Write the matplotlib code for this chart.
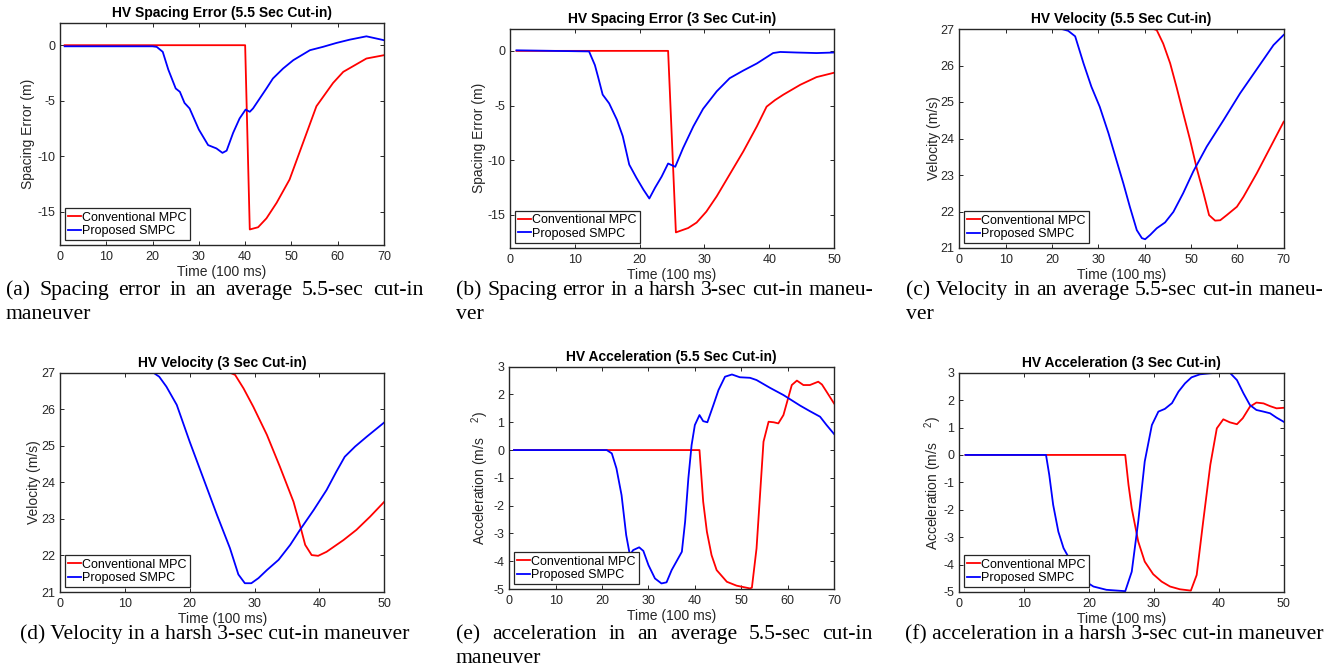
import matplotlib
matplotlib.use("Agg")
import matplotlib.pyplot as plt

# ---------------- data ----------------
a_t_mpc = [1, 40, 41, 42.8, 44.6, 46.8, 49.6, 52.5, 55.4, 59, 61.2, 66.2, 70]
a_mpc = [0, 0, -16.6, -16.4, -15.6, -14.2, -12.1, -8.8, -5.5, -3.4, -2.4, -1.2, -0.9]
a_t_smpc = [1, 20, 20.9, 22.2, 23.4, 25, 25.9, 26.9, 28, 30, 32, 33.8, 35.1, 36, 37.4, 38.8,
            40.1, 41, 41.7, 44.6, 46, 48.2, 50.4, 54, 56.8, 59.7, 62.6, 66.2, 70]
a_smpc = [-0.1, -0.1, -0.15, -0.6, -2.2, -3.9, -4.2, -5.2, -5.7, -7.6, -9.0, -9.3, -9.7, -9.5,
          -7.9, -6.6, -5.8, -6.0, -5.7, -3.9, -3.0, -2.1, -1.35, -0.45, -0.15, 0.2, 0.5, 0.8, 0.45]

b_t_mpc = [1, 24.4, 25.6, 27.5, 28.8, 30.3, 31.9, 33.9, 36, 38.1, 39.6, 40.9, 42.2, 44.8, 47.3, 50]
b_mpc = [0, 0, -16.6, -16.2, -15.7, -14.7, -13.3, -11.3, -9.2, -6.9, -5.1, -4.5, -4.0, -3.1, -2.4, -2.0]
b_t_smpc = [1, 12.2, 13.1, 13.6, 14.3, 15.3, 16.5, 17.4, 18.4, 19.5, 20.6, 21.5, 22.4, 23.4, 24.4,
            25.5, 26.7, 28.3, 29.8, 31.9, 33.9, 36, 38.1, 40.6, 41.7, 44.2, 47.3, 50]
b_smpc = [0.05, -0.05, -1.3, -2.4, -4.0, -4.8, -6.3, -7.8, -10.4, -11.6, -12.7, -13.5, -12.5, -11.5,
          -10.3, -10.6, -8.9, -6.9, -5.3, -3.7, -2.5, -1.8, -1.15, -0.2, -0.1, -0.15, -0.2, -0.15]

c_t_mpc = [1, 41.9, 42.6, 44, 45.5, 46.9, 48.3, 49.8, 51.2, 52.7, 53.9, 55.2, 56.3, 57.7, 59.9,
           61.3, 64.2, 67, 70]
c_mpc = [27, 27, 26.97, 26.6, 26.06, 25.4, 24.7, 23.96, 23.2, 22.5, 21.9, 21.75, 21.76, 21.9,
         22.13, 22.4, 23.05, 23.73, 24.46]
c_t_smpc = [1, 22.1, 23.5, 25, 26.8, 28.5, 30.3, 32.2, 33.9, 35.4, 36.8, 38.3, 39.4, 40.1, 41.2,
            42.6, 44.4, 46.2, 48.3, 50.5, 53.4, 57, 60.6, 64.2, 67.8, 70]
c_smpc = [27, 27, 26.95, 26.8, 26.06, 25.42, 24.87, 24.14, 23.41, 22.77, 22.13, 21.49, 21.27,
          21.24, 21.36, 21.54, 21.7, 21.99, 22.5, 23.1, 23.78, 24.5, 25.24, 25.9, 26.56, 26.84]

d_t_mpc = [1, 25.5, 26.2, 27, 28.3, 29.8, 31.9, 33.9, 36, 37, 37.8, 38.8, 39.8, 41.1, 43.7,
           45.7, 47.8, 50]
d_mpc = [27.1, 27.1, 27.0, 26.94, 26.57, 26.07, 25.3, 24.43, 23.47, 22.83, 22.29, 22.01, 21.99,
         22.1, 22.42, 22.7, 23.06, 23.47]
d_t_smpc = [1, 13.5, 14.4, 15.3, 16.4, 18, 20, 22.1, 24.2, 26.2, 27.5, 28.5, 29.5, 30.6, 31.9,
            33.7, 35.5, 37, 39.1, 41.1, 42.6, 43.9, 45.5, 47.3, 50]
d_smpc = [27.1, 27.1, 27.0, 26.89, 26.62, 26.12, 25.11, 24.11, 23.11, 22.2, 21.48, 21.24, 21.24,
          21.38, 21.6, 21.88, 22.29, 22.7, 23.24, 23.79, 24.29, 24.7, 24.98, 25.25, 25.64]

e_t_mpc = [1, 41, 41.8, 42.6, 43.6, 44.7, 46.9, 49, 51.9, 52.3, 53.3, 54.8, 55.9, 57, 58, 59.1,
           59.8, 60.9, 62, 63.4, 64.8, 66.6, 67.4, 68.4, 70]
e_mpc = [0, 0, -1.86, -2.94, -3.78, -4.32, -4.74, -4.88, -4.98, -4.95, -3.54, 0.3, 1.02, 1.0,
         0.96, 1.26, 1.68, 2.34, 2.5, 2.34, 2.34, 2.46, 2.36, 2.1, 1.68]
e_t_smpc = [1, 21, 22.1, 23.1, 24.2, 25.2, 26, 26.7, 28, 28.9, 30, 31.4, 32.8, 33.9, 35, 36, 37.2,
            37.9, 38.6, 39.3, 40, 41, 41.8, 42.7, 44, 45.1, 46.5, 48, 49.7, 51.9, 53.3, 56.2,
            59.1, 62.7, 64.8, 67, 68.4, 70]
e_smpc = [0, 0, -0.12, -0.66, -1.62, -3.06, -3.78, -3.6, -3.5, -3.63, -4.14, -4.62, -4.8, -4.76,
          -4.32, -4.02, -3.66, -2.58, -1.02, 0.18, 0.9, 1.26, 1.04, 1.0, 1.62, 2.16, 2.64, 2.72,
          2.62, 2.6, 2.52, 2.24, 1.98, 1.6, 1.4, 1.2, 0.9, 0.58]

f_t_mpc = [1, 25.6, 26.1, 26.6, 27.6, 28.6, 29.9, 31.2, 32.5, 34, 35.7, 36.6, 37.6, 38.7, 39.7,
           40.7, 41.7, 42.8, 43.7, 44.8, 45.8, 46.9, 47.9, 48.9, 50]
f_mpc = [0, 0, -1.09, -1.95, -3.16, -3.89, -4.35, -4.62, -4.8, -4.9, -4.95, -4.38, -2.43, -0.36,
         0.97, 1.3, 1.19, 1.12, 1.34, 1.76, 1.91, 1.88, 1.78, 1.7, 1.72]
f_t_smpc = [1, 13.4, 13.9, 14.5, 15.3, 16.1, 17.1, 18.1, 19.1, 20.7, 22.7, 25.6, 26.6, 27.6, 28.6,
            29.7, 30.7, 31.7, 32.8, 33.8, 34.8, 35.8, 37.1, 38.7, 40.2, 41.7, 42.8, 43.8, 44.8,
            45.8, 46.9, 47.9, 48.9, 50]
f_smpc = [0, 0, -0.73, -1.82, -2.8, -3.4, -3.83, -4.13, -4.56, -4.8, -4.92, -4.97, -4.26, -2.43,
          -0.24, 1.09, 1.58, 1.68, 1.89, 2.31, 2.61, 2.83, 2.94, 2.98, 3.0, 3.0, 2.73, 2.25, 1.82,
          1.64, 1.58, 1.52, 1.36, 1.21]

series_names = ["Conventional MPC", "Proposed SMPC"]
titles = ["HV Spacing Error (5.5 Sec Cut-in)", "HV Spacing Error (3 Sec Cut-in)",
          "HV Velocity (5.5 Sec Cut-in)", "HV Velocity (3 Sec Cut-in)",
          "HV Acceleration (5.5 Sec Cut-in)", "HV Acceleration (3 Sec Cut-in)"]
ylabels = ["Spacing Error (m)", "Spacing Error (m)", "Velocity (m/s)", "Velocity (m/s)",
           "Acceleration (m/s    $^{2}$)", "Acceleration (m/s    $^{2}$)"]
xlabel = "Time (100 ms)"
x_ticks_70 = [0, 10, 20, 30, 40, 50, 60, 70]
x_ticks_50 = [0, 10, 20, 30, 40, 50]
y_ticks_spacing = [-15, -10, -5, 0]
y_ticks_vel = [21, 22, 23, 24, 25, 26, 27]
y_ticks_acc = [-5, -4, -3, -2, -1, 0, 1, 2, 3]

captions = [
    ("(a) Spacing error in an average 5.5-sec cut-in", "maneuver"),
    ("(b) Spacing error in a harsh 3-sec cut-in maneu-", "ver"),
    ("(c) Velocity in an average 5.5-sec cut-in maneu-", "ver"),
    ("(d) Velocity in a harsh 3-sec cut-in maneuver", None),
    ("(e) acceleration in an average 5.5-sec cut-in", "maneuver"),
    ("(f) acceleration in a harsh 3-sec cut-in maneuver", None),
]

# ---------------- layout ----------------
W, H = 1344, 671
plt.rcParams['font.family'] = ['Liberation Sans', 'DejaVu Sans']
plt.rcParams['axes.unicode_minus'] = False
plt.rcParams['mathtext.fontset'] = 'custom'
plt.rcParams['mathtext.rm'] = 'Liberation Sans'
plt.rcParams['mathtext.it'] = 'Liberation Sans'

fig = plt.figure(figsize=(W / 100, H / 100), dpi=100)

# pixel boxes (left, top, right, bottom)
boxes = [(60, 23, 384, 245), (510, 29, 834, 247.7), (959.3, 29, 1283.7, 248),
         (60, 372.7, 384.3, 592), (509.3, 366.7, 834, 589), (959, 372.7, 1283.7, 592)]
ylabel_dx = [25, 23.7, 18.4, 18.7, 18.3, 15]

panels = [
    (a_t_mpc, a_mpc, a_t_smpc, a_smpc, (0, 70), (-18, 2), x_ticks_70, y_ticks_spacing),
    (b_t_mpc, b_mpc, b_t_smpc, b_smpc, (0, 50), (-18, 2), x_ticks_50, y_ticks_spacing),
    (c_t_mpc, c_mpc, c_t_smpc, c_smpc, (0, 70), (21, 27), x_ticks_70, y_ticks_vel),
    (d_t_mpc, d_mpc, d_t_smpc, d_smpc, (0, 50), (21, 27), x_ticks_50, y_ticks_vel),
    (e_t_mpc, e_mpc, e_t_smpc, e_smpc, (0, 70), (-5, 3), x_ticks_70, y_ticks_acc),
    (f_t_mpc, f_mpc, f_t_smpc, f_smpc, (0, 50), (-5, 3), x_ticks_50, y_ticks_acc),
]

axcol = '#262626'
for i, (box, p) in enumerate(zip(boxes, panels)):
    l, t, r, b = box
    ax = fig.add_axes([l / W, 1 - b / H, (r - l) / W, (b - t) / H])
    tm, ym, ts, ys, xl, yl, xt, yt = p
    ax.plot(tm, ym, color='#ff0000', lw=1.3, label=series_names[0])
    ax.plot(ts, ys, color='#0000ff', lw=1.3, label=series_names[1])
    ax.set_xlim(*xl)
    ax.set_ylim(*yl)
    ax.set_xticks(xt)
    ax.set_yticks(yt)
    ax.tick_params(direction='in', length=3, width=0.7, top=True, right=True,
                   labelsize=9, colors=axcol)
    ax.tick_params(axis='x', pad=4.5)
    ax.tick_params(axis='y', pad=3.5)
    for s in ax.spines.values():
        s.set_color(axcol)
        s.set_linewidth(1.0)
    ax.set_title(titles[i], fontsize=10, fontweight='bold', pad=4)
    ax.set_xlabel(xlabel, fontsize=10, color=axcol, labelpad=1.5)
    ax.set_ylabel(ylabels[i], fontsize=10, color=axcol)
    ax.yaxis.set_label_coords(-ylabel_dx[i] / (r - l), 0.5)
    leg = ax.legend(loc='lower left', fontsize=9, handlelength=1.0, handletextpad=0.1,
                    borderpad=0.28, labelspacing=0.1, borderaxespad=0.37,
                    fancybox=False, framealpha=1, edgecolor=axcol)
    leg.get_frame().set_linewidth(0.9)

# ---------------- captions ----------------
cap_fs = 15.6
renderer = fig.canvas.get_renderer()
col_left = [6, 456, 906, 6, 456, 906]
col_w = 417
base1 = [295, 295, 295, 639, 639, 639]
line_gap = 24


def put_justified(words, x0, width, ybase):
    ts = [fig.text(0, 1 - ybase / H, w, fontsize=cap_fs, family='Liberation Serif',
                   va='baseline', ha='left') for w in words]
    ws = [tt.get_window_extent(renderer).width for tt in ts]
    gap = (width - sum(ws)) / (len(ws) - 1)
    x = x0
    for tt, w in zip(ts, ws):
        tt.set_x(x / W)
        x += w + gap


for i, (l1, l2) in enumerate(captions):
    if l2 is None:
        fig.text((col_left[i] + col_w / 2) / W, 1 - base1[i] / H, l1, fontsize=cap_fs,
                 family='Liberation Serif', va='baseline', ha='center')
    else:
        put_justified(l1.split(' '), col_left[i], col_w, base1[i])
        fig.text(col_left[i] / W, 1 - (base1[i] + line_gap) / H, l2, fontsize=cap_fs,
                 family='Liberation Serif', va='baseline', ha='left')

fig.savefig('out.png', dpi=100)
